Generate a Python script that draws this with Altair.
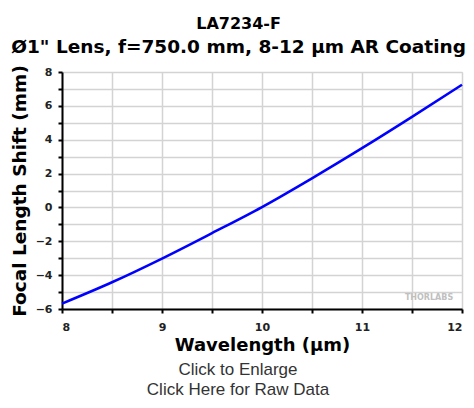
import altair as alt
import pandas as pd

wavelength_um = [8.0, 8.5, 9.0, 9.5, 10.0, 10.5, 11.0, 11.5, 12.0]
focal_shift_mm = [-5.68, -4.42, -3.02, -1.52, 0.02, 1.72, 3.5, 5.35, 7.25]

df = pd.DataFrame({"wl": wavelength_um, "shift": focal_shift_mm})

x_ticks = [8 + 0.5 * i for i in range(9)]
y_ticks = list(range(-6, 9))

notes = pd.DataFrame({"t": ["Click to Enlarge", "Click Here for Raw Data"], "y": [298, 318]})

x_enc = alt.X(
    "wl:Q",
    scale=alt.Scale(domain=[8, 12], nice=False),
    axis=alt.Axis(
        title="Wavelength (µm)",
        values=x_ticks,
        labelExpr="datum.value % 1 == 0 ? format(datum.value, 'd') : ''",
        grid=True,
        gridColor="#d3d3d3",
        gridWidth=1.5,
        domainColor="black",
        domainWidth=2,
        tickColor="black",
        tickWidth=2,
        tickSize=4,
        labelFont="DejaVu Sans",
        labelFontWeight="bold",
        labelFontSize=11,
        labelColor="#222",
        labelPadding=8,
        labelOverlap=False,
        titleFont="DejaVu Sans",
        titleFontWeight="bold",
        titleFontSize=18,
        titleColor="black",
        titlePadding=4,
    ),
)
y_enc = alt.Y(
    "shift:Q",
    scale=alt.Scale(domain=[-6, 8], nice=False),
    axis=alt.Axis(
        title="Focal Length Shift (mm)",
        values=y_ticks,
        labelExpr="datum.value % 2 == 0 ? datum.label : ''",
        grid=True,
        gridColor="#d3d3d3",
        gridWidth=1.5,
        domainColor="black",
        domainWidth=2,
        tickColor="black",
        tickWidth=2,
        tickSize=4,
        labelFont="DejaVu Sans",
        labelFontWeight="bold",
        labelFontSize=11,
        labelColor="#222",
        labelPadding=6,
        labelOverlap=False,
        titleFont="DejaVu Sans",
        titleFontWeight="bold",
        titleFontSize=18.5,
        titleColor="black",
        titlePadding=6,
    ),
)

line = alt.Chart(df).mark_line(color="#0000ff", strokeWidth=2.5, interpolate="monotone").encode(x=x_enc, y=y_enc)

watermark = alt.Chart(pd.DataFrame({"t": ["THORLABS"]})).mark_text(
    font="DejaVu Sans", fontWeight="bold", fontSize=8, color="#c0c0c0"
).encode(text="t:N", x=alt.value(367), y=alt.value(226))

bottom = alt.Chart(notes).mark_text(
    font="Liberation Sans", fontSize=17, color="#333333", clip=False
).encode(text="t:N", x=alt.value(176), y=alt.Y("y:Q", scale=None))

chart = alt.layer(line, watermark, bottom).properties(
    width=400,
    height=237,
    title=alt.TitleParams(
        text="LA7234-F",
        subtitle="Ø1\" Lens, f=750.0 mm, 8-12 µm AR Coating",
        anchor="middle",
        frame="bounds",
        font="DejaVu Sans",
        fontSize=16,
        fontWeight="bold",
        color="black",
        subtitleFont="DejaVu Sans",
        subtitleFontSize=18.5,
        subtitleFontWeight="bold",
        subtitleColor="black",
        subtitlePadding=6,
        offset=8,
    ),
    autosize=alt.AutoSizeParams(type="none"),
    padding={"left": 54, "top": 64, "right": 4, "bottom": 91},
).configure_view(stroke="black", strokeWidth=2).configure(background="white")

chart.save("out.html", embed_options={"renderer": "svg", "actions": False})
